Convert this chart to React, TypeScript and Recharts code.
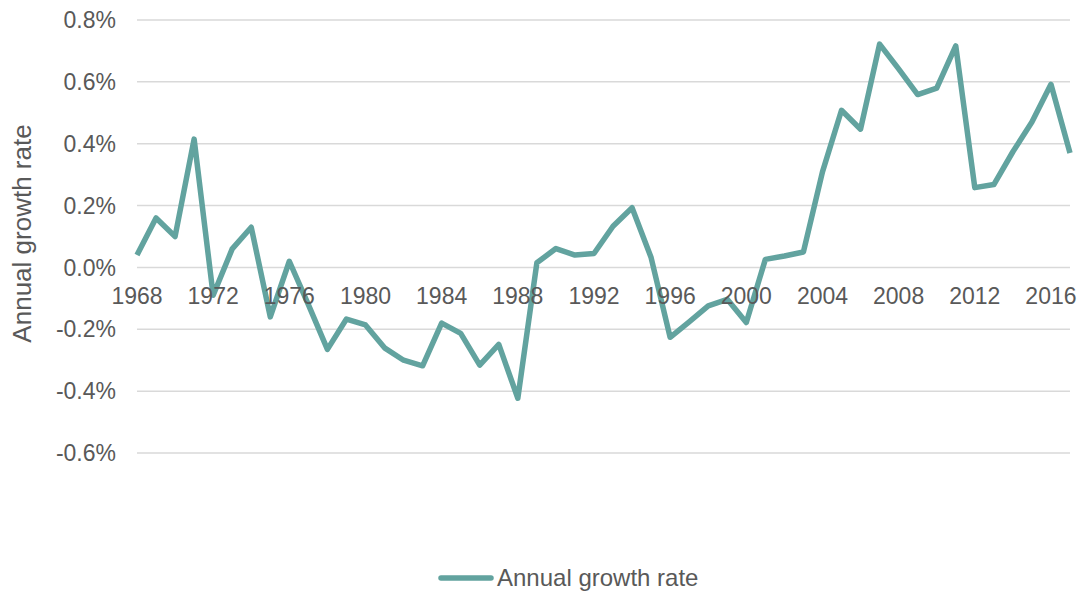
import { LineChart, Line, XAxis, YAxis, CartesianGrid, Legend } from "recharts";

const years = [
  1968, 1969, 1970, 1971, 1972, 1973, 1974, 1975, 1976, 1977,
  1978, 1979, 1980, 1981, 1982, 1983, 1984, 1985, 1986, 1987,
  1988, 1989, 1990, 1991, 1992, 1993, 1994, 1995, 1996, 1997,
  1998, 1999, 2000, 2001, 2002, 2003, 2004, 2005, 2006, 2007,
  2008, 2009, 2010, 2011, 2012, 2013, 2014, 2015, 2016, 2017,
];

// annual growth rate, in percent
const growthRate = [
  0.04, 0.16, 0.1, 0.415, -0.09, 0.06, 0.13, -0.16, 0.02, -0.12,
  -0.265, -0.167, -0.186, -0.26, -0.3, -0.318, -0.18, -0.213, -0.316, -0.249,
  -0.423, 0.015, 0.061, 0.04, 0.045, 0.133, 0.193, 0.032, -0.226, -0.176,
  -0.124, -0.103, -0.178, 0.026, 0.037, 0.05, 0.309, 0.508, 0.447, 0.722,
  0.642, 0.559, 0.58, 0.716, 0.258, 0.268, 0.374, 0.47, 0.592, 0.37,
];

const yTicks = [-0.6, -0.4, -0.2, 0, 0.2, 0.4, 0.6, 0.8];
const xTicks = [1968, 1972, 1976, 1980, 1984, 1988, 1992, 1996, 2000, 2004, 2008, 2012, 2016];

const data = years.map((year, i) => ({ year, rate: growthRate[i] }));

const FONT = '"Liberation Sans", Arial, sans-serif';
const TEXT = "#595959";
const LINE = "#62a39f";

const W = 1082;
const H = 592;
const MARGIN = { top: 20, right: 12, bottom: 0, left: 0 };
const LEGEND_H = 29;
const PLOT_BOTTOM = 453;
const Y_MIN = -0.6;
const Y_MAX = 0.8;
// x axis labels sit just under the zero line, like excel does
const ZERO_Y = MARGIN.top + (Y_MAX / (Y_MAX - Y_MIN)) * (PLOT_BOTTOM - MARGIN.top);

function YearTick(props: any) {
  const { x, payload } = props;
  return (
    <text x={x} y={ZERO_Y + 37} textAnchor="middle" fill={TEXT} fontSize={23} fontFamily={FONT}>
      {payload.value}
    </text>
  );
}

function AxisTitle(props: any) {
  const vb = props.viewBox || { y: MARGIN.top, height: PLOT_BOTTOM - MARGIN.top };
  const cy = vb.y + vb.height / 2 - 3;
  return (
    <text
      x={31}
      y={cy}
      transform={`rotate(-90 31 ${cy})`}
      textAnchor="middle"
      fill={TEXT}
      fontSize={26}
      fontFamily={FONT}
    >
      Annual growth rate
    </text>
  );
}

function LegendContent() {
  return (
    <div style={{ display: "flex", alignItems: "center", height: LEGEND_H, paddingLeft: 438 }}>
      <svg width={56} height={10}>
        <line x1={3} y1={5} x2={53} y2={5} stroke={LINE} strokeWidth={5.5} strokeLinecap="round" />
      </svg>
      <span style={{ marginLeft: 3, fontSize: 24, color: TEXT, fontFamily: FONT }}>
        Annual growth rate
      </span>
    </div>
  );
}

export default function App() {
  return (
    <div style={{ position: "absolute", left: 0, top: 0, background: "#fff" }}>
      <LineChart width={W} height={H} data={data} margin={MARGIN} style={{ fontFamily: FONT }}>
        <CartesianGrid vertical={false} stroke="#d9d9d9" strokeWidth={1.5} />
        <XAxis
          dataKey="year"
          type="number"
          domain={[1968, 2017]}
          ticks={xTicks}
          interval={0}
          axisLine={false}
          tickLine={false}
          height={H - MARGIN.bottom - LEGEND_H - PLOT_BOTTOM}
          tick={(p: any) => <YearTick {...p} />}
        />
        <YAxis
          domain={[Y_MIN, Y_MAX]}
          ticks={yTicks}
          width={137}
          axisLine={false}
          tickLine={false}
          tickSize={0}
          tickMargin={21}
          tickFormatter={(v: number) => `${v.toFixed(1)}%`}
          tick={{ fill: TEXT, fontSize: 23, fontFamily: FONT }}
          label={{ value: "Annual growth rate", content: (p: any) => <AxisTitle {...p} /> }}
        />
        <Legend
          verticalAlign="bottom"
          height={LEGEND_H}
          wrapperStyle={{ left: 0, width: W }}
          content={() => <LegendContent />}
        />
        <Line
          type="linear"
          dataKey="rate"
          name="Annual growth rate"
          stroke={LINE}
          strokeWidth={5.5}
          strokeLinejoin="round"
          dot={false}
          activeDot={false}
          isAnimationActive={false}
        />
      </LineChart>
    </div>
  );
}
